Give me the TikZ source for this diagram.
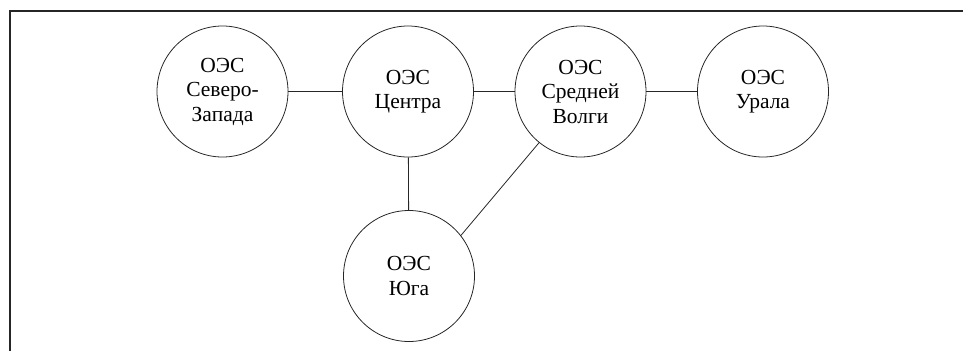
\documentclass[tikz,border=0pt]{standalone}
\usepackage{fontspec}
\setmainfont{Liberation Serif}
\begin{document}
\begin{tikzpicture}[x=1pt,y=-1pt,
  oes/.style={circle,draw=black!85,line width=0.8pt,minimum size=131pt,inner sep=0pt,align=center,font=\fontsize{21.5}{24.5}\selectfont},
  link/.style={draw=black!85,line width=0.8pt}]
\useasboundingbox (0,0) rectangle (963,351);
\draw[black!85,line width=1.3pt] (10,351) -- (10,11) -- (963,11);
\node[oes] (sz) at (222.5,91.5) {ОЭС\\Северо-\\Запада};
\node[oes] (c) at (408,91.5) {ОЭС\\Центра};
\node[oes] (sv) at (580.5,91.5) {ОЭС\\Средней\\Волги};
\node[oes] (u) at (763,91.5) {ОЭС\\Урала};
\node[oes] (yu) at (409,276) {ОЭС\\Юга};
\draw[link] (sz) -- (c);
\draw[link] (c) -- (sv);
\draw[link] (sv) -- (u);
\draw[link] (c) -- (yu);
\draw[link] (sv.231) -- (yu.38);
\end{tikzpicture}
\end{document}
